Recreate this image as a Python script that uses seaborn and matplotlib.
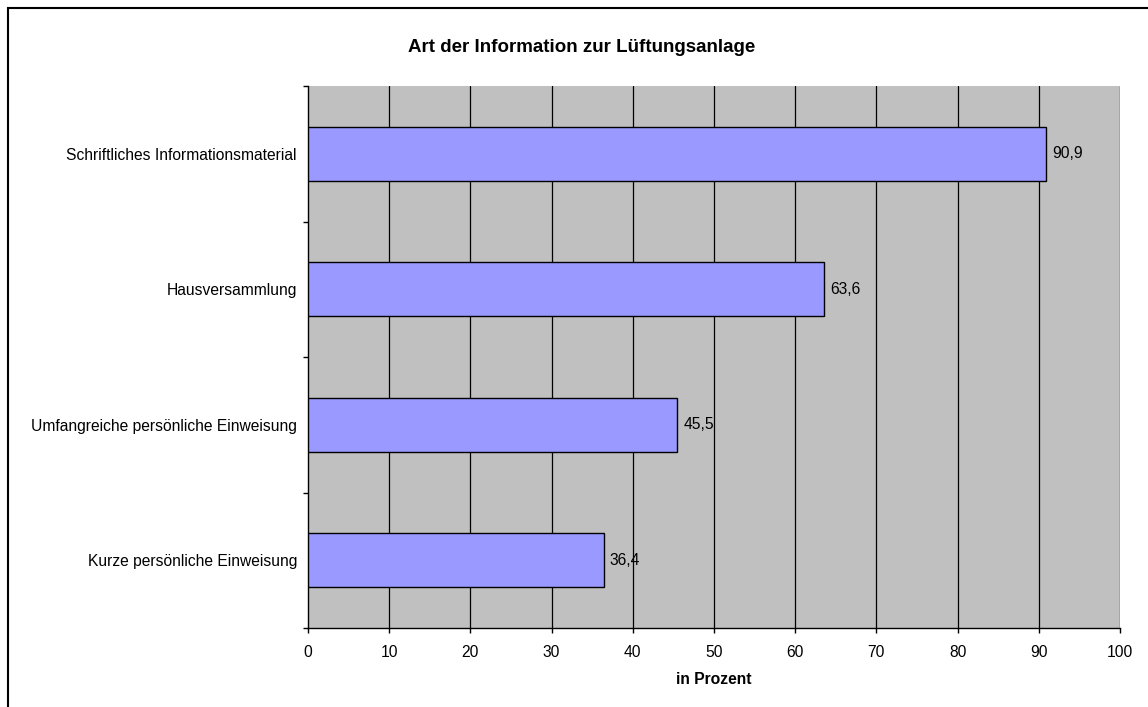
import matplotlib
matplotlib.use("Agg")
import matplotlib.pyplot as plt
import matplotlib.ticker as ticker
from matplotlib.patches import Rectangle
import pandas as pd
import seaborn as sns

categories = ["Schriftliches Informationsmaterial", "Hausversammlung",
              "Umfangreiche persönliche Einweisung", "Kurze persönliche Einweisung"]
values = [90.9, 63.6, 45.5, 36.4]
x_ticks = [0, 10, 20, 30, 40, 50, 60, 70, 80, 90, 100]

sns.set_style("white")
plt.rcParams['font.family'] = ['Liberation Sans', 'DejaVu Sans']
plt.rcParams['text.color'] = 'black'
plt.rcParams['xtick.color'] = 'black'
plt.rcParams['ytick.color'] = 'black'
plt.rcParams['axes.labelcolor'] = 'black'

df = pd.DataFrame({'category': categories, 'value': values})

fig = plt.figure(figsize=(11.48, 7.07), dpi=100)
ax = fig.add_axes([308 / 1148, 1 - 628 / 707, 812 / 1148, 542 / 707])

ax.set_facecolor('#C0C0C0')
sns.barplot(data=df, x='value', y='category', orient='h', color='#9999FF',
            edgecolor='black', linewidth=1, width=0.4, saturation=1, ax=ax, zorder=3)

ax.set_xlim(0, 100)
ax.set_ylim(len(categories) - 0.5, -0.5)
ax.xaxis.set_major_locator(ticker.FixedLocator(x_ticks))
for t in x_ticks[1:]:
    ax.axvline(t, color='black', linewidth=0.9, zorder=1)

# y ticks at category borders, labels at centres
ax.yaxis.set_minor_locator(ticker.FixedLocator([i - 0.5 for i in range(len(categories) + 1)]))
ax.tick_params(axis='y', which='major', length=0, pad=8, labelsize=11.25)
ax.tick_params(axis='y', which='minor', length=3.6, width=1, color='black', direction='out', left=True)
ax.tick_params(axis='x', which='major', length=3.6, width=1, color='black', direction='out',
               bottom=True, labelsize=11.25, pad=8.5)

for s in ['top', 'right']:
    ax.spines[s].set_visible(False)
for s in ['left', 'bottom']:
    ax.spines[s].set_color('black')
    ax.spines[s].set_linewidth(1)

for i, v in enumerate(values):
    ax.text(v + 0.7, i, f"{v:.1f}".replace('.', ','), va='center', ha='left',
            fontsize=11.25, zorder=5)

ax.set_ylabel('')
ax.set_xlabel('in Prozent', fontsize=11.25, fontweight='bold', labelpad=8.5)
fig.text(582 / 1148, 1 - 47 / 707, 'Art der Information zur Lüftungsanlage',
         ha='center', va='center', fontsize=13.5, fontweight='bold')

fig.patches.append(Rectangle((8 / 1148, -0.05), 1.2, 1 - 8 / 707 + 0.05,
                             transform=fig.transFigure, fill=False,
                             edgecolor='black', linewidth=1.5))

fig.savefig('out.png', dpi=100)
